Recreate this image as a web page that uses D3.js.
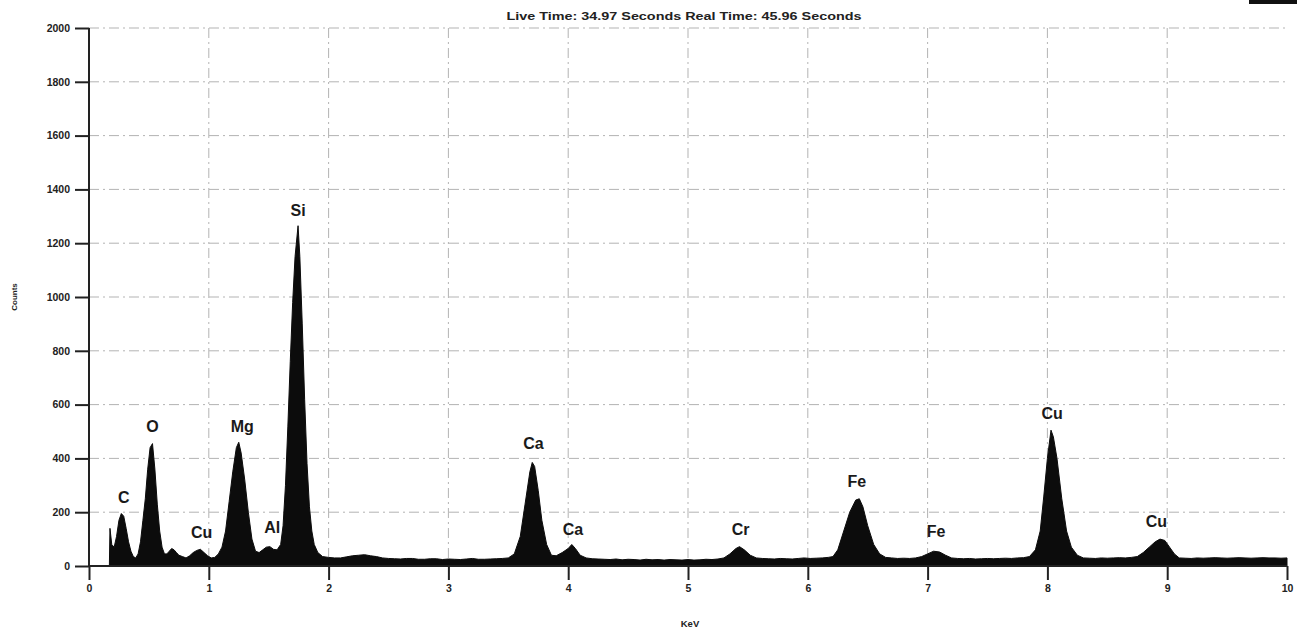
<!DOCTYPE html>
<html><head><meta charset="utf-8">
<script src="https://cdn.jsdelivr.net/npm/d3@7/dist/d3.min.js"></script>
<style>
html,body{margin:0;padding:0;background:#fff;}
svg{display:block;font-family:"Liberation Sans",Arial,sans-serif;}
</style></head>
<body>
<svg id="chart" width="1297" height="631"></svg>
<script>
// ---- data ----
const titleText = "Live Time: 34.97 Seconds   Real Time: 45.96 Seconds";
const xTicks = [0,1,2,3,4,5,6,7,8,9,10];
const yTicks = [0,200,400,600,800,1000,1200,1400,1600,1800,2000];
const energies = [
  0.17,0.175,0.19,0.21,0.23,0.25,0.27,0.29,0.31,0.33,
  0.35,0.37,0.39,0.41,0.43,0.45,0.47,0.49,0.51,0.53,
  0.55,0.57,0.59,0.61,0.63,0.65,0.67,0.69,0.71,0.73,
  0.75,0.78,0.81,0.84,0.87,0.90,0.93,0.96,0.99,1.02,
  1.05,1.08,1.11,1.14,1.17,1.20,1.23,1.25,1.27,1.30,
  1.33,1.36,1.39,1.42,1.45,1.48,1.51,1.54,1.57,1.60,
  1.62,1.64,1.66,1.68,1.70,1.72,1.745,1.76,1.78,1.80,
  1.82,1.84,1.86,1.88,1.91,1.95,2.0,2.05,2.1,2.15,
  2.2,2.25,2.3,2.35,2.4,2.45,2.5,2.55,2.6,2.65,
  2.7,2.75,2.8,2.85,2.9,2.95,3.0,3.05,3.1,3.15,
  3.2,3.25,3.3,3.35,3.4,3.45,3.5,3.55,3.6,3.64,
  3.68,3.70,3.72,3.75,3.78,3.82,3.86,3.90,3.95,4.0,
  4.03,4.06,4.10,4.15,4.2,4.25,4.3,4.35,4.4,4.45,
  4.5,4.55,4.6,4.65,4.7,4.75,4.8,4.85,4.9,4.95,
  5.0,5.05,5.1,5.15,5.2,5.25,5.3,5.35,5.40,5.43,
  5.47,5.52,5.57,5.62,5.67,5.72,5.77,5.82,5.87,5.92,
  5.97,6.02,6.07,6.12,6.17,6.21,6.25,6.30,6.35,6.40,
  6.43,6.46,6.50,6.55,6.60,6.65,6.70,6.75,6.8,6.85,
  6.9,6.95,7.0,7.05,7.10,7.15,7.2,7.25,7.3,7.35,
  7.4,7.45,7.5,7.55,7.6,7.65,7.7,7.75,7.8,7.85,
  7.90,7.94,7.97,8.00,8.03,8.05,8.08,8.12,8.16,8.20,
  8.25,8.3,8.35,8.4,8.45,8.5,8.55,8.6,8.65,8.7,
  8.75,8.80,8.85,8.90,8.94,8.98,9.02,9.06,9.1,9.15,
  9.2,9.25,9.3,9.35,9.4,9.45,9.5,9.55,9.6,9.65,
  9.7,9.75,9.8,9.85,9.9,9.95,10.0,10.0
];
const counts = [
  0,140,80,70,110,170,195,185,140,90,
  55,35,30,45,90,170,250,360,440,455,
  360,230,130,70,45,45,55,65,60,50,
  40,35,30,38,50,58,62,50,38,30,
  32,45,70,130,240,350,440,460,420,320,
  200,100,55,50,60,70,72,62,60,80,
  150,300,520,760,980,1150,1265,1150,900,620,
  380,220,130,80,50,35,32,30,30,34,
  38,40,42,38,35,30,28,27,26,28,
  28,25,25,27,27,24,26,25,24,26,
  28,25,25,26,27,28,30,45,110,230,
  350,385,370,280,170,80,40,38,50,65,
  80,65,40,30,27,26,25,24,26,23,
  25,24,22,25,23,24,22,24,23,22,
  24,22,23,25,24,26,30,45,65,72,
  60,40,30,28,27,26,28,27,26,28,
  30,28,29,30,32,35,60,130,200,245,
  250,220,150,80,45,32,30,28,29,28,
  30,35,45,55,52,40,30,28,27,28,
  26,27,28,27,28,29,28,30,31,35,
  60,130,260,400,505,480,400,250,130,70,
  40,30,29,28,30,29,30,31,30,32,
  35,50,70,90,100,95,70,45,30,29,
  28,30,29,30,31,30,29,30,31,30,
  29,30,31,30,30,29,30,0
];
const peakNames = ["C","O","Cu","Mg","Al","Si","Ca","Ca","Cr","Fe","Fe","Cu","Cu"];
const peakKeV = [0.29,0.53,0.94,1.28,1.53,1.745,3.71,4.04,5.44,6.41,7.07,8.04,8.91];
const peakLabelCounts = [256,520,126,520,145,1323,457,138,138,316,130,569,167];

// ---- layout ----
const svg = d3.select("#chart");
const x = d3.scaleLinear().domain([0,10]).range([89,1287]);
const y = d3.scaleLinear().domain([0,2000]).range([566,28]);

// top-right small bar
svg.append("rect").attr("x",1249).attr("y",0).attr("width",48).attr("height",4).attr("fill","#111");

// title
svg.append("text").attr("x",684).attr("y",20).attr("text-anchor","middle")
  .attr("font-size",11).attr("font-weight","bold").attr("fill","#222")
  .attr("textLength",355).attr("lengthAdjust","spacingAndGlyphs").text(titleText);

// grid
const grid = svg.append("g").attr("stroke","#8c8c8c").attr("stroke-width",1)
  .attr("stroke-dasharray","10,4,2,4").attr("opacity",0.65);
grid.selectAll("line.h").data(yTicks.filter(d=>d>0)).enter().append("line")
  .attr("x1",x(0)).attr("x2",x(10)).attr("y1",d=>y(d)).attr("y2",d=>y(d));
grid.selectAll("line.v").data(xTicks.filter(d=>d>0&&d<10)).enter().append("line")
  .attr("x1",d=>x(d)).attr("x2",d=>x(d)).attr("y1",y(2000)).attr("y2",y(0));

// spectrum
const pts = energies.map((e,i)=>[e,counts[i]]);
const area = d3.area().x(d=>x(d[0])).y0(y(0)).y1(d=>y(d[1])).curve(d3.curveLinear);
svg.append("path").datum(pts).attr("d",area).attr("fill","#0c0c0c")
  .attr("stroke","#0c0c0c").attr("stroke-width",1);

// axes
const yAxis = d3.axisLeft(y).tickValues(yTicks).tickFormat(d3.format("d")).tickSize(14).tickPadding(5);
const gy = svg.append("g").attr("transform",`translate(${x(0)},0)`).call(yAxis);
const xAxis = d3.axisBottom(x).tickValues(xTicks).tickFormat(d3.format("d")).tickSize(14).tickPadding(5);
const gx = svg.append("g").attr("transform",`translate(0,${y(0)})`).call(xAxis);
[gy,gx].forEach(g=>{
  g.select(".domain").attr("stroke","#222").attr("stroke-width",2);
  g.selectAll(".tick line").attr("stroke","#222").attr("stroke-width",2);
  g.selectAll(".tick text").attr("fill","#222").attr("font-weight","bold")
    .attr("font-size",10.5).attr("font-family","'Liberation Sans',Arial,sans-serif");
});
gx.select(".domain").attr("d",`M${x(0)},0H${x(10)}`);
gy.select(".domain").attr("d",`M0,${y(2000)}V${y(0)}`);

// axis titles
svg.append("text").attr("x",690).attr("y",627).attr("text-anchor","middle")
  .attr("font-size",9.5).attr("font-weight","bold").attr("fill","#222").text("KeV");
svg.append("text").attr("transform","translate(17,297) rotate(-90)").attr("text-anchor","middle")
  .attr("font-size",8).attr("font-weight","bold").attr("fill","#222").text("Counts");

// peak labels
svg.append("g").selectAll("text").data(peakNames).enter().append("text")
  .attr("x",(d,i)=>x(peakKeV[i])).attr("y",(d,i)=>y(peakLabelCounts[i])+6)
  .attr("text-anchor","middle").attr("font-size",16).attr("font-weight","bold")
  .attr("fill","#1a1a1a").text(d=>d);
</script>
</body></html>
